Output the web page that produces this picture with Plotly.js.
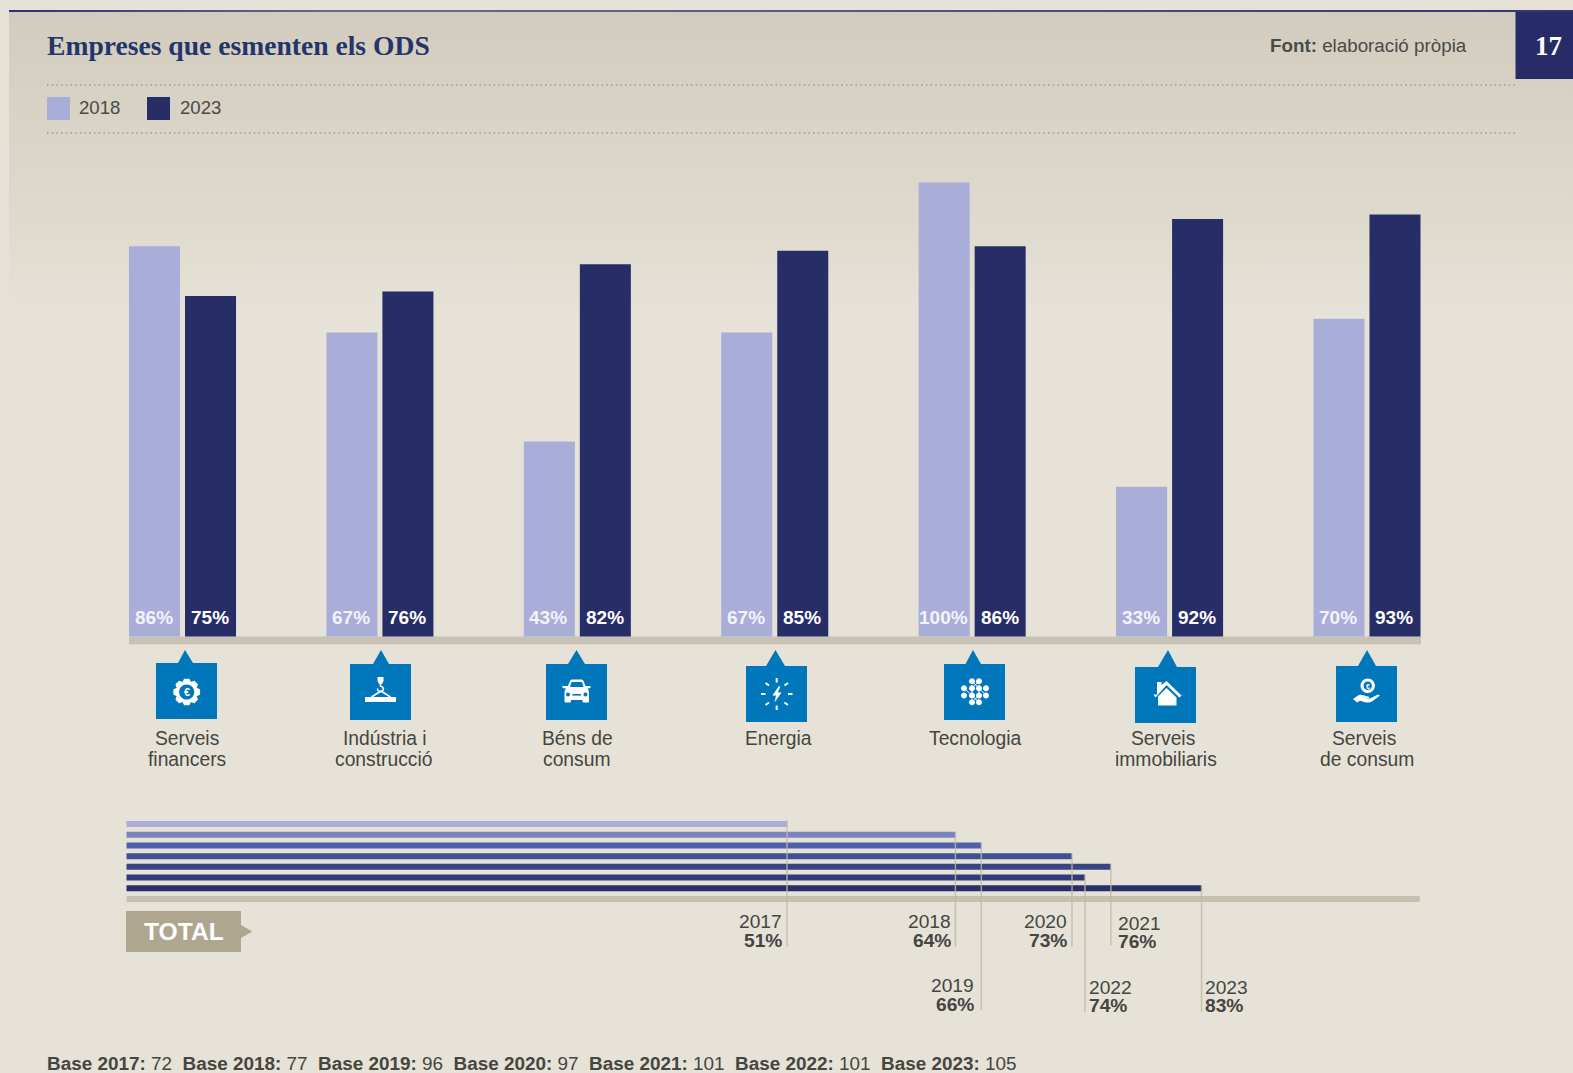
<!DOCTYPE html>
<html lang="ca">
<head>
<meta charset="utf-8">
<script src="https://cdn.plot.ly/plotly-3.0.1.min.js"></script>
<style>
html,body{margin:0;padding:0;width:1573px;height:1073px;overflow:hidden;background:#e6e2d7}
#panel{position:absolute;left:9px;top:12px;width:1564px;height:300px;background:linear-gradient(to bottom,#d2ccbe 0%,#d8d2c5 30%,#dfdace 70%,#e6e2d7 100%)}
#rule{position:absolute;left:9px;top:10px;width:1564px;height:2px;background:linear-gradient(to right,#2a3377 0%,#6b6a90 22%,#55598a 50%,#2f3673 100%)}
#chart{position:absolute;left:0;top:0;width:1573px;height:1073px}
</style>
</head>
<body>
<div id="panel"></div><div id="rule"></div>
<div id="chart"></div>
<script>
// ---------- data ----------
const categories = ['Serveis financers','Indústria i construcció','Béns de consum','Energia','Tecnologia','Serveis immobiliaris','Serveis de consum'];
const categoryLines = [['Serveis','financers'],['Indústria i','construcció'],['Béns de','consum'],['Energia'],['Tecnologia'],['Serveis','immobiliaris'],['Serveis','de consum']];
const values2018 = [86,67,43,67,100,33,70];
const values2023 = [75,76,82,85,86,92,93];
const totalYears = ['2017','2018','2019','2020','2021','2022','2023'];
const totalValues = [51,64,66,73,76,74,83];
const baseValues = [72,77,96,97,101,101,105];

// ---------- styles ----------
const W = 1573, H = 1073;
const LIGHT = '#a9aed9', NAVY = '#272d67', BLUE = '#0077ba', BAND = '#c8c2b5', INK = '#454541';
const totalColors = ['#a9aed9','#7c84bf','#4f5fa9','#414f94','#3a4383','#313a78','#272e68'];
const SANS = '"Liberation Sans", Arial, sans-serif', SERIF = '"Liberation Serif", "DejaVu Serif", serif';
const px = x => x / W, py = y => 1 - y / H;

// converts an absolute "M x y L x y ..." pixel path to paper coordinates
function P(d) {
  let isX = true;
  return d.trim().split(/\s+/).map(t => {
    if (/^[A-Za-z]$/.test(t)) return t;
    const v = parseFloat(t), out = isX ? px(v) : py(v);
    isX = !isX; return out.toFixed(6);
  }).join(' ');
}
const shapes = [], annotations = [];
function path(d, fill, extra) {
  shapes.push(Object.assign({type:'path', xref:'paper', yref:'paper', path:P(d), fillcolor:fill, line:{width:0}, layer:'above'}, extra||{}));
}
function rect(x0,y0,x1,y1,fill) { path(`M ${x0} ${y0} L ${x1} ${y0} L ${x1} ${y1} L ${x0} ${y1} Z`, fill); }
function circle(cx,cy,r,fill) {
  const k = 0.5523*r;
  path(`M ${cx-r} ${cy} C ${cx-r} ${cy-k} ${cx-k} ${cy-r} ${cx} ${cy-r} C ${cx+k} ${cy-r} ${cx+r} ${cy-k} ${cx+r} ${cy} C ${cx+r} ${cy+k} ${cx+k} ${cy+r} ${cx} ${cy+r} C ${cx-k} ${cy+r} ${cx-r} ${cy+k} ${cx-r} ${cy} Z`, fill);
}
function stroke(d, w, color) {
  shapes.push({type:'path', xref:'paper', yref:'paper', path:P(d), line:{width:w,color:color||'#fff'}, layer:'above'});
}
function txt(text, x, y, size, o) {
  o = o||{};
  const a = o.anchor||'left';
  const nudge = a==='left' ? -1.5 : a==='right' ? 1.5 : 0;
  annotations.push({text, xref:'paper', yref:'paper', x:px(x+nudge), y:py(y), xanchor:a, yanchor:'middle',
    showarrow:false, borderpad:0, align:a,
    font:{family:o.family||SANS, size, color:o.color||INK, weight:o.weight||'normal'}});
}

// ---------- header ----------
txt('<b>Empreses que esmenten els ODS</b>', 47, 45.5, 27.6, {family:SERIF, color:'#23356a'});
txt('<b>Font:</b> elaboració pròpia', 1466, 45.5, 18.8, {anchor:'right', color:'#4a4a46'});
rect(1515.5,12,1573,79,'#272c68');
txt('<b>17</b>', 1548.5, 46, 27, {anchor:'center', family:SERIF, color:'#fff'});
[85,133].forEach(y => shapes.push({type:'line', xref:'paper', yref:'paper', x0:px(47), x1:px(1516), y0:py(y), y1:py(y),
  line:{color:'#aca797', width:1.8, dash:'1.5px,3.2px'}}));
rect(47,97,70,120,LIGHT); txt('2018', 79.5, 107.5, 18.6, {color:'#4a4a46'});
rect(147,97,170,120,NAVY); txt('2023', 180, 107.5, 18.6, {color:'#4a4a46'});

// ---------- main baseline band & value labels ----------
shapes.push({type:'rect', xref:'paper', yref:'y', x0:px(129), x1:px(1421), y0:-1.76, y1:0, fillcolor:BAND, line:{width:0}, layer:'below'});
categories.forEach((c,i) => {
  [[values2018[i],-29,'#f3f3fa'],[values2023[i],27.5,'#ffffff']].forEach(([v,shift,col]) => {
    annotations.push({text:`<b>${v}%</b>`, xref:'x', yref:'y', x:c, y:0, xshift:shift, yshift:19.2, xanchor:'center', yanchor:'middle',
      showarrow:false, borderpad:0, font:{family:SANS, size:19, color:col}});
  });
});

// ---------- icons ----------
const icons = [
  {x0:156,x1:217,y0:663,y1:719,ax:185,bl:178,br:193},
  {x0:350,x1:411,y0:664,y1:720,ax:381,bl:373,br:389},
  {x0:546,x1:607,y0:664,y1:720,ax:576.5,bl:568,br:585},
  {x0:746,x1:807,y0:666,y1:722,ax:775.5,bl:766,br:785},
  {x0:944,x1:1005,y0:664,y1:720,ax:973,bl:965.5,br:981},
  {x0:1135,x1:1196,y0:667,y1:723,ax:1168,bl:1158,br:1177},
  {x0:1336,x1:1397,y0:666,y1:722,ax:1367,bl:1358,br:1376}
];
icons.forEach(k => {
  path(`M ${k.x0} ${k.y0} L ${k.bl} ${k.y0} L ${k.ax} 650 L ${k.br} ${k.y0} L ${k.x1} ${k.y0} L ${k.x1} ${k.y1} L ${k.x0} ${k.y1} Z`, BLUE);
});
// gear + euro
(function(){
  const cx=186.7, cy=692, R=13.6, r=10.6; let d='';
  for (let i=0;i<8;i++){
    const a=(i*45-90)*Math.PI/180, w=0.23, g=0.2;
    const pts=[[r,a-w-g+0.0],[R,a-w+0.04],[R,a+w-0.04],[r,a+w+g]];
    pts.forEach(([rad,an],j)=>{ d+=`${(i===0&&j===0)?'M':'L'} ${(cx+rad*Math.cos(an)).toFixed(2)} ${(cy+rad*Math.sin(an)).toFixed(2)} `; });
  }
  path(d+'Z','#fff');
  circle(cx,cy,7.6,BLUE);
  txt('<b>€</b>', cx, cy+0.3, 11, {anchor:'center', color:'#fff'});
})();
// crane hook
rect(365,697,396,702,'#fff');
path('M 377.5 677 L 383.5 677 L 383.5 681 L 382 684 L 379 684 L 377.5 681 Z','#fff');
stroke('M 380.5 684 L 380.5 686 C 384 687 384.5 690 381 691.5 C 378.5 692 377.5 690 377.5 688.5',1.6);
stroke('M 381 691 L 371.5 697 M 381 691 L 390.5 697',1.6);
// car
path('M 568 686 L 570 681 C 570.5 680 571 679.5 572.5 679.5 L 581 679.5 C 582.5 679.5 583 680 583.5 681 L 585.5 686 L 590.5 686 L 590.5 688 L 587.5 688.5 C 588.5 690 589 691 589 693 L 589 701 C 589 702 588.5 702.5 587.5 702.5 L 584 702.5 C 583 702.5 582.5 702 582.5 701 L 582.5 700 L 571 700 L 571 701 C 571 702 570.5 702.5 569.5 702.5 L 566 702.5 C 565 702.5 564.5 702 564.5 701 L 564.5 693 C 564.5 691 565 690 566 688.5 L 562.5 688 L 562.5 686 Z','#fff');
path('M 570 687 L 571.5 682 L 582 682 L 583.5 687 Z',BLUE);
circle(568,694.5,2,BLUE); circle(585.5,694.5,2,BLUE);
rect(572.5,694,581,695.6,BLUE);
// energy bolt and rays
path('M 778.5 686.5 L 772.5 695.5 L 776 695.5 L 774.5 702.5 L 781.5 692.5 L 777.8 692.5 L 780.5 686.5 Z','#fff');
[[776.7,678,776.7,682.5],[776.7,705.5,776.7,710],[761,694,765.5,694],[788,694,792.5,694],[765.5,683,769,685.5],[784.5,685.5,788,683],[765.5,705,769,702.5],[784.5,702.5,788,705]].forEach(s => {
  stroke(`M ${s[0]} ${s[1]} L ${s[2]} ${s[3]}`,2);
});
// technology network
(function(){
  const cx=974, cy=691.7;
  [[-2,-10.5],[5,-10.5],[-10,-3.5],[-2,-3.5],[5,-3.5],[12,-3.5],[-10,3.7],[-2,3.7],[5,3.7],[12,3.7],[-2,10.5],[5,10.5]].forEach(p=>{
    circle(cx+p[0],cy+p[1],3,'#fff');
  });
  stroke(`M ${cx-2} ${cy-10.5} L ${cx+5} ${cy-3.5} L ${cx+5} ${cy+3.7} L ${cx-2} ${cy+10.5}`,1,'#fff');
  stroke(`M ${cx+5} ${cy-10.5} L ${cx-2} ${cy-3.5} L ${cx-2} ${cy+3.7} L ${cx+5} ${cy+10.5}`,1,'#fff');
  stroke(`M ${cx-10} ${cy-3.5} L ${cx-2} ${cy+3.7} M ${cx+12} ${cy+3.7} L ${cx+5} ${cy-3.5}`,1,'#fff');
})();
// house
path('M 1153.5 694.5 L 1157 694.5 L 1157 682 L 1161.5 682 L 1161.5 685 L 1166.5 681 L 1181.5 695.5 L 1179.5 697.5 L 1166.5 685 L 1155.5 697.5 Z','#fff');
path('M 1166.5 688 L 1176.5 697.5 L 1176.5 705.5 L 1158 705.5 L 1158 696.5 Z','#fff');
// hand + coin
circle(1367.7,685.7,7.2,'#fff'); circle(1367.7,685.7,4.2,BLUE);
txt('<b>€</b>', 1367.7, 686, 7, {anchor:'center', color:'#fff'});
path('M 1353 699 L 1358 695.5 C 1360 694.5 1362 694.5 1364 695.5 L 1368 696.5 C 1370 697 1369.5 698.5 1368 698.5 L 1364 698.5 L 1369.5 698.8 L 1378 694.5 L 1380 695.5 L 1372 701.5 C 1370 702.8 1367 702.8 1365 702.3 L 1360 700.8 L 1357 702.5 Z','#fff');

// ---------- category labels ----------
const labelCentres = [[186.5,186.5],[384.6,384],[577,577],[778],[974.5],[1163,1165.5],[1364,1367]];
categoryLines.forEach((lines,i) => lines.forEach((t,j) => {
  txt(t, labelCentres[i][j], 738 + j*21, 19.3, {anchor:'center'});
}));

// ---------- totals panel ----------
shapes.push({type:'rect', xref:'x2', yref:'y2', x0:0, x1:99.85, y0:6.72, y1:7.28, fillcolor:'#c5c0b0', line:{width:0}, layer:'below'});
const leaderEnds = [947,947,1010,947,945.5,1012,1012];
const rowTops = [820,832,842,853,864,875,885];
const labelPlace = [
  {x:781.8,a:'right',y1:921.7,y2:940},
  {x:950,a:'right',y1:921.7,y2:940},
  {x:974,a:'right',y1:985.7,y2:1004.7},
  {x:1066,a:'right',y1:921.7,y2:940},
  {x:1118,a:'left',y1:923,y2:941.7},
  {x:1089,a:'left',y1:987.7,y2:1005.7},
  {x:1205,a:'left',y1:987.7,y2:1005.7}
];
totalYears.forEach((yr,i) => {
  shapes.push({type:'line', xref:'x2', yref:'paper', x0:totalValues[i], x1:totalValues[i], y0:py(rowTops[i]), y1:py(leaderEnds[i]),
    line:{color:'rgba(190,184,165,0.8)', width:1.5}, layer:'above'});
  const L = labelPlace[i];
  txt(yr, L.x, L.y1, 19.2, {anchor:L.a});
  txt(`<b>${totalValues[i]}%</b>`, L.x, L.y2, 19.2, {anchor:L.a});
});
path('M 126 911 L 241 911 L 241 925 L 252.3 931.5 L 241 938 L 241 952 L 126 952 Z','#aea68f');
txt('<b>TOTAL</b>', 144, 931, 24.6, {color:'#fff'});

// ---------- footer ----------
const footer = totalYears.map((y,i)=>`<b>Base ${y}:</b> ${baseValues[i]}`).join('\u00a0\u00a0');
txt(footer, 47, 1063.5, 18.9, {});

// ---------- traces ----------
const traces = [
  {type:'bar', name:'2018', x:categories, y:values2018, marker:{color:LIGHT}, xaxis:'x', yaxis:'y', hoverinfo:'skip'},
  {type:'bar', name:'2023', x:categories, y:values2023, marker:{color:NAVY}, xaxis:'x', yaxis:'y', hoverinfo:'skip'},
  {type:'bar', name:'Total', orientation:'h', x:totalValues, y:totalYears, width:0.56, marker:{color:totalColors}, xaxis:'x2', yaxis:'y2', hoverinfo:'skip'}
];
const pxPerPct = 4.54, base = 636.6;
const layout = {
  width:W, height:H, margin:{l:0,r:0,t:0,b:0,pad:0}, showlegend:false,
  paper_bgcolor:'rgba(0,0,0,0)', plot_bgcolor:'rgba(0,0,0,0)',
  barmode:'group', bargap:0.4326, bargroupgap:0.089,
  xaxis:{domain:[px(83.8),px(1465.7)], type:'category', categoryorder:'array', categoryarray:categories, range:[-0.5,6.5],
         showticklabels:false, ticks:'', showgrid:false, zeroline:false, showline:false, anchor:'y', fixedrange:true},
  yaxis:{domain:[py(base+1.8*pxPerPct), py(base-100.2*pxPerPct)], range:[-1.8,100.2], showticklabels:false, ticks:'',
         showgrid:false, zeroline:false, showline:false, anchor:'x', fixedrange:true},
  xaxis2:{domain:[px(126.3),px(1421.8)], range:[0,100], showticklabels:false, ticks:'', showgrid:false, zeroline:false, showline:false, anchor:'y2', fixedrange:true},
  yaxis2:{domain:[py(904.4),py(818.6)], type:'category', categoryorder:'array', categoryarray:totalYears, range:[7.5,-0.5],
          showticklabels:false, ticks:'', showgrid:false, zeroline:false, showline:false, anchor:'x2', fixedrange:true},
  shapes, annotations, font:{family:SANS}
};
Plotly.newPlot('chart', traces, layout, {displayModeBar:false, staticPlot:true, responsive:false});
</script>
</body>
</html>
